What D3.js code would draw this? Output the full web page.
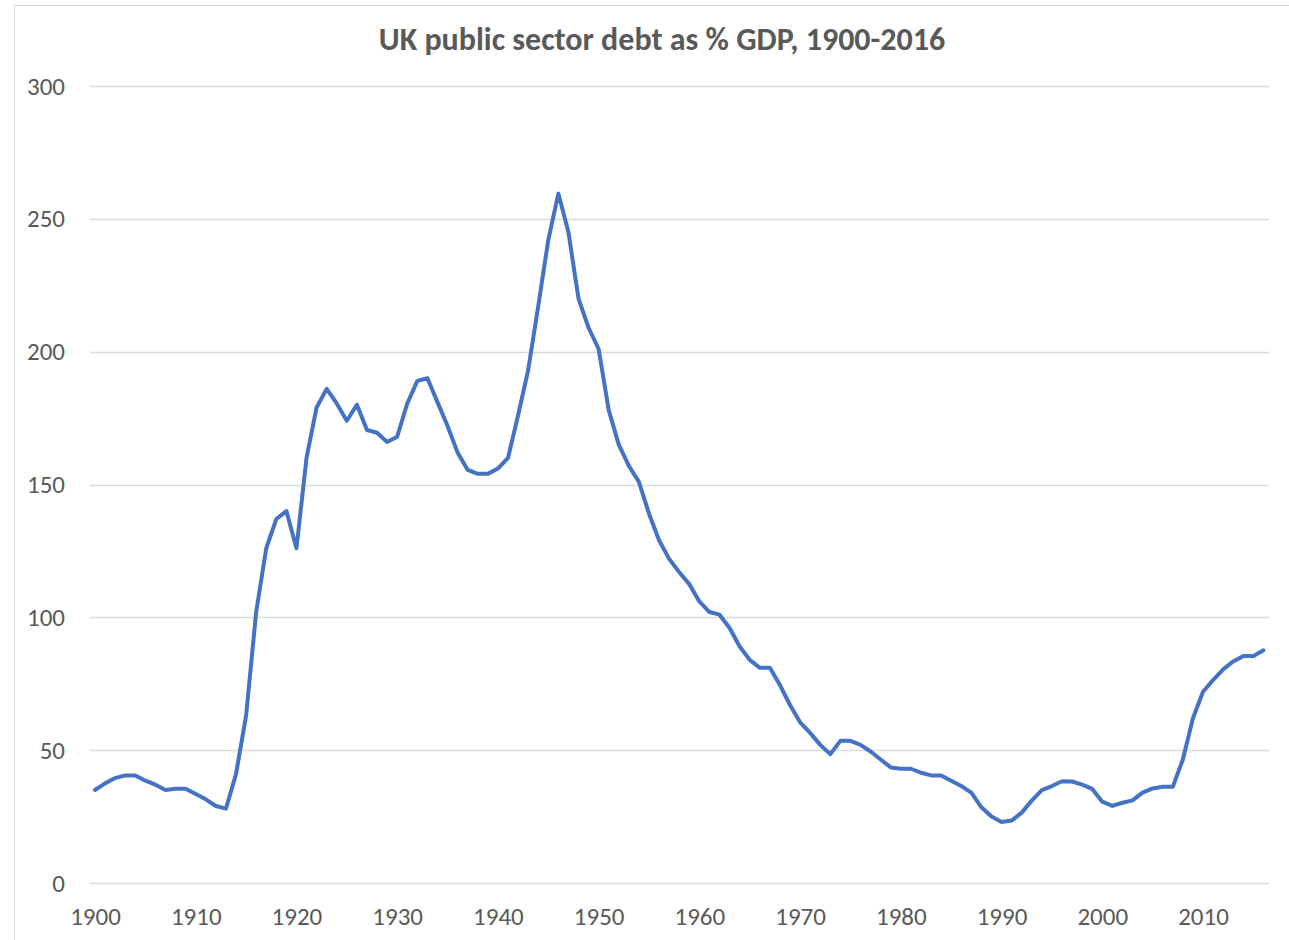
<!DOCTYPE html>
<html>
<head>
<meta charset="utf-8">
<script src="https://cdn.jsdelivr.net/npm/d3@7"></script>
<style>
  html, body { margin: 0; padding: 0; background: #ffffff; }
  svg { display: block; }
  text { font-family: Carlito, Calibri, Lato, "Open Sans", sans-serif; fill: #595959; }
</style>
</head>
<body>
<svg id="chart" width="1289" height="940"></svg>
<script>
// UK public sector debt, % of GDP, one value per year 1900-2016
const years = d3.range(1900, 2017);
const debtPct = [
  35, 37.5, 39.5, 40.5, 40.5, 38.5, 37, 35, 35.5, 35.5,        // 1900s
  33.5, 31.5, 29, 28, 41, 63, 102, 126, 137, 140,              // 1910s
  126, 160, 179, 186, 180.5, 174, 180, 170.5, 169.5, 166,      // 1920s
  168, 180.5, 189, 190, 181, 172, 162, 155.5, 154, 154,        // 1930s
  156, 160, 176, 193, 217, 242, 259.5, 245, 220, 209,          // 1940s
  201, 178, 165, 157, 151, 139, 129, 122, 117, 112.5,          // 1950s
  106, 102, 101, 96, 89, 84, 81, 81, 74.5, 67,                 // 1960s
  60.5, 56.5, 52, 48.5, 53.5, 53.5, 52, 49.5, 46.5, 43.5,      // 1970s
  43, 43, 41.5, 40.5, 40.5, 38.5, 36.5, 34, 28.5, 25,          // 1980s
  23, 23.5, 26.5, 31, 35, 36.5, 38.3, 38.2, 37, 35.4,          // 1990s
  30.6, 29, 30.2, 31.1, 34, 35.6, 36.2, 36.2, 46.5, 62,        // 2000s
  72, 76.4, 80.4, 83.4, 85.4, 85.4, 87.6                       // 2010s
];
const yTicks = [0, 50, 100, 150, 200, 250, 300];
const xTicks = [1900, 1910, 1920, 1930, 1940, 1950, 1960, 1970, 1980, 1990, 2000, 2010];
const titleText = "UK public sector debt as % GDP, 1900-2016";

const data = years.map((yr, i) => ({ year: yr, value: debtPct[i] }));

const svg = d3.select("#chart");

// chart-area frame
svg.append("rect")
  .attr("x", 14.5).attr("y", 5.5)
  .attr("width", 1300).attr("height", 960)
  .attr("fill", "#ffffff")
  .attr("stroke", "#d9d9d9")
  .attr("stroke-width", 1);

const gridLeft = 90, gridRight = 1269;

const x = d3.scaleLinear().domain([1900, 2010]).range([95, 1203]);
const y = d3.scaleLinear().domain([0, 300]).range([883, 86]);

// horizontal gridlines
svg.append("g")
  .selectAll("line")
  .data(yTicks)
  .join("line")
  .attr("x1", gridLeft).attr("x2", gridRight)
  .attr("y1", d => Math.round(y(d)) + 0.5)
  .attr("y2", d => Math.round(y(d)) + 0.5)
  .attr("stroke", "#d9d9d9")
  .attr("stroke-width", 1.3);

// y-axis labels
const yAxis = d3.axisLeft(y).tickValues(yTicks).tickSize(0).tickPadding(0);
svg.append("g")
  .attr("transform", "translate(65,0)")
  .call(yAxis)
  .call(g => g.select(".domain").remove())
  .selectAll("text")
  .attr("font-size", 25)
  .attr("font-family", "Carlito, Calibri, Lato, sans-serif")
  .attr("fill", "#595959");

// x-axis labels
const xAxis = d3.axisBottom(x).tickValues(xTicks).tickFormat(d3.format("d")).tickSize(0).tickPadding(0);
svg.append("g")
  .attr("transform", "translate(0,907)")
  .call(xAxis)
  .call(g => g.select(".domain").remove())
  .selectAll("text")
  .attr("font-size", 25)
  .attr("font-family", "Carlito, Calibri, Lato, sans-serif")
  .attr("fill", "#595959");

// debt series
const line = d3.line()
  .x(d => x(d.year))
  .y(d => y(d.value));

svg.append("path")
  .datum(data)
  .attr("d", line)
  .attr("fill", "none")
  .attr("stroke", "#4472c4")
  .attr("stroke-width", 4)
  .attr("stroke-linejoin", "round")
  .attr("stroke-linecap", "round");

// title
svg.append("text")
  .attr("x", 662)
  .attr("y", 50)
  .attr("text-anchor", "middle")
  .attr("font-size", 32)
  .attr("font-weight", "bold")
  .text(titleText);
</script>
</body>
</html>
